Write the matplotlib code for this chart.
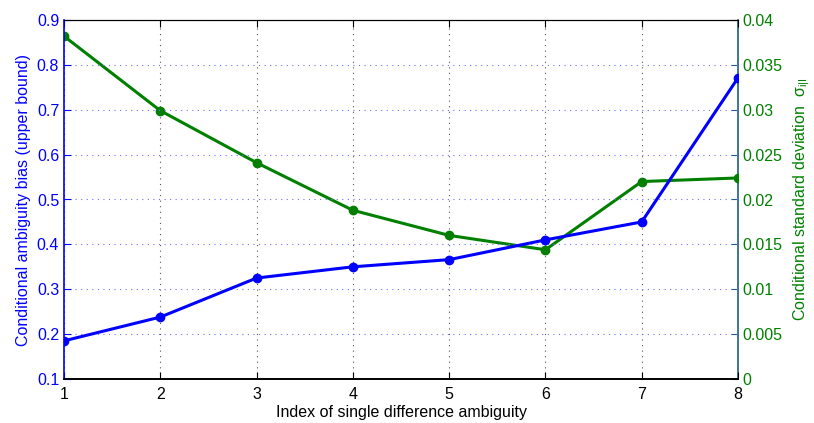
import matplotlib
matplotlib.use("Agg")
import matplotlib.pyplot as plt

plt.rcParams['font.family'] = ['Liberation Sans', 'DejaVu Sans']
plt.rcParams['mathtext.fontset'] = 'custom'
plt.rcParams['mathtext.rm'] = 'Liberation Sans'
plt.rcParams['mathtext.it'] = 'Liberation Sans'

index = [1, 2, 3, 4, 5, 6, 7, 8]
bias = [0.185, 0.238, 0.325, 0.350, 0.366, 0.410, 0.450, 0.771]
sigma = [0.0382, 0.0299, 0.0241, 0.0188, 0.0160, 0.0144, 0.0220, 0.0224]
left_ticks = [0.1, 0.2, 0.3, 0.4, 0.5, 0.6, 0.7, 0.8, 0.9]
right_ticks = [0, 0.005, 0.01, 0.015, 0.02, 0.025, 0.03, 0.035, 0.04]

BLUE = '#0000ff'
GREEN = '#008000'

fig = plt.figure(figsize=(8.14, 4.23), dpi=100)
ax = fig.add_axes([64/814, 1-379/423, (738-64)/814, (379-20)/423])
ax2 = ax.twinx()

ax.plot(index, bias, color=BLUE, lw=2.2, marker='o', ms=6, zorder=3)
ax2.plot(index, sigma, color=GREEN, lw=2.2, marker='o', ms=6, zorder=3)

ax.set_xlim(1, 8)
ax.set_ylim(0.1, 0.9)
ax2.set_ylim(0, 0.04)
ax.set_xticks(index)
ax.set_yticks(left_ticks)
ax.set_yticklabels([f"{v:g}" for v in left_ticks])
ax2.set_yticks(right_ticks)
ax2.set_yticklabels([f"{v:g}" for v in right_ticks])

ax.tick_params(axis='both', direction='in', labelsize=11.5, length=5)
ax.tick_params(axis='y', colors=BLUE, labelcolor=BLUE)
ax.tick_params(axis='x', colors='black', labelcolor='black', pad=6)
ax.tick_params(axis='x', top=True)
ax2.tick_params(axis='y', direction='in', colors='#1f5f7f', labelcolor=GREEN, labelsize=11.5, length=5)

ax.xaxis.grid(True, color='#555555', linestyle=(0, (1, 4)), lw=0.8)
ax.yaxis.grid(True, color='#7070ff', linestyle=(0, (1, 4)), lw=0.8)

for a in (ax, ax2):
    a.spines['top'].set_color('black')
    a.spines['bottom'].set_color('black')
    a.spines['left'].set_color(BLUE)
    a.spines['right'].set_color('#1f5f7f')
    a.spines['left'].set_linewidth(1.2)
    a.spines['right'].set_linewidth(1.2)
    a.spines['bottom'].set_linewidth(1.2)
ax2.spines['left'].set_visible(False)
ax.spines['right'].set_visible(False)

ax.set_xlabel('Index of single difference ambiguity', fontsize=11.5, labelpad=2)
ax.set_ylabel('Conditional ambiguity bias (upper bound)', fontsize=11.5, color=BLUE, labelpad=4)
ax2.set_ylabel(r'Conditional standard deviation  $\sigma_{\mathrm{i|I}}$', fontsize=11.5, color=GREEN, labelpad=6)

ax.set_zorder(ax2.get_zorder() + 1)
ax.patch.set_visible(False)

fig.savefig('out.png', dpi=100)
